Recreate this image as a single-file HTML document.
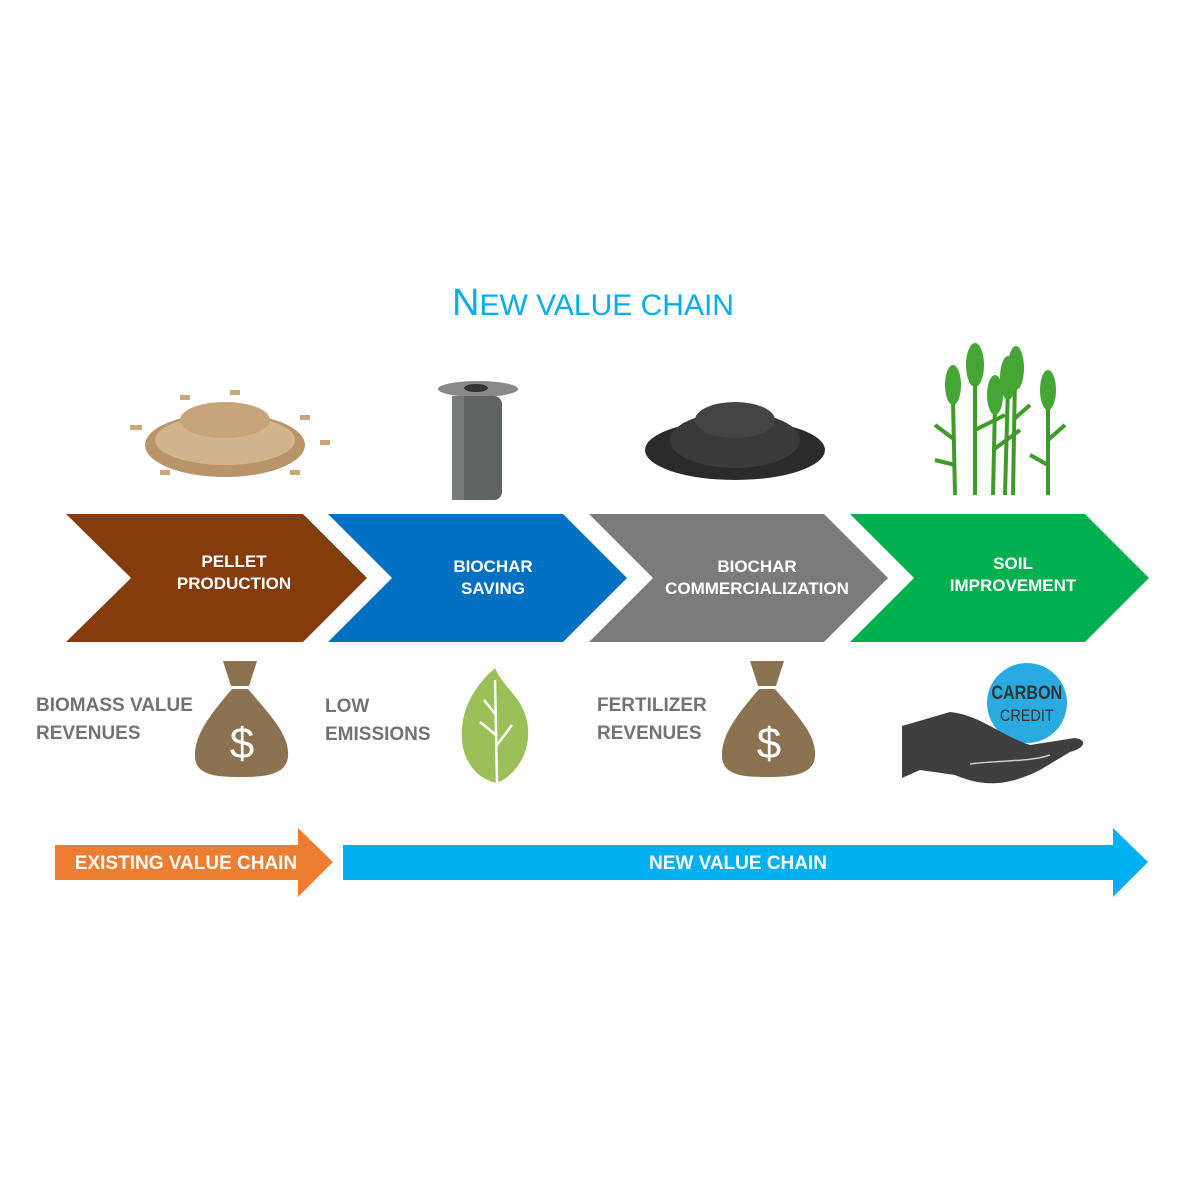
<!DOCTYPE html>
<html><head><meta charset="utf-8"><style>
html,body{margin:0;padding:0;background:#fff;}
svg{display:block;}
</style></head><body>
<svg width="1200" height="1200" viewBox="0 0 1200 1200" xmlns="http://www.w3.org/2000/svg" font-family="Liberation Sans, sans-serif">
<rect width="1200" height="1200" fill="#fff"/>
<text x="593" y="315" text-anchor="middle" fill="#00aeef" font-size="38">N<tspan font-size="30">EW VALUE CHAIN</tspan></text>

<!-- pellets -->
<g fill="#c9a77c">
<ellipse cx="225" cy="445" rx="80" ry="32" fill="#b89468"/>
<ellipse cx="225" cy="440" rx="70" ry="25" fill="#d2b48c"/>
<ellipse cx="225" cy="420" rx="45" ry="18" fill="#c8a47a"/>
<rect x="130" y="425" width="12" height="5"/><rect x="300" y="415" width="10" height="5"/><rect x="320" y="440" width="10" height="5"/><rect x="180" y="395" width="10" height="5"/><rect x="230" y="390" width="10" height="5"/><rect x="160" y="470" width="10" height="5"/><rect x="290" y="470" width="10" height="5"/>
</g>
<!-- cylinder -->
<ellipse cx="478" cy="389" rx="40" ry="8" fill="#888"/>
<ellipse cx="476" cy="388" rx="12" ry="4" fill="#333"/>
<rect x="452" y="396" width="50" height="104" rx="8" fill="#5f6362"/>
<rect x="452" y="396" width="12" height="104" fill="#777b7a"/>
<!-- biochar -->
<ellipse cx="735" cy="450" rx="90" ry="30" fill="#2b2b2b"/>
<ellipse cx="735" cy="440" rx="65" ry="28" fill="#3a3a3a"/>
<ellipse cx="735" cy="420" rx="40" ry="18" fill="#444"/>
<!-- plants -->
<g stroke="#3f9a2c" stroke-width="4" fill="none">
<path d="M953 400 L955 495"/><path d="M975 370 L975 495"/><path d="M995 405 L993 495"/><path d="M1008 385 L1005 495"/><path d="M1015 375 L1013 495"/><path d="M1048 390 L1048 495"/>
<path d="M955 440 L935 425 M955 465 L935 460 M975 430 L1005 415 M993 450 L1020 430 M1013 420 L1030 405 M1048 440 L1065 425 M1048 465 L1030 455"/>
</g>
<g fill="#45a535">
<ellipse cx="953" cy="385" rx="8" ry="20"/><ellipse cx="975" cy="365" rx="9" ry="22"/><ellipse cx="995" cy="395" rx="8" ry="20"/><ellipse cx="1008" cy="378" rx="8" ry="22"/><ellipse cx="1016" cy="368" rx="8" ry="22"/><ellipse cx="1048" cy="390" rx="8" ry="20"/>
</g>

<!-- chevrons -->
<polygon points="66,514 303,514 367,578 303,642 66,642 131,578" fill="#843c0c"/>
<polygon points="328,514 563,514 627,578 563,642 328,642 392,578" fill="#0070c0"/>
<polygon points="589,514 824,514 888,578 824,642 589,642 653,578" fill="#7b7b7b"/>
<polygon points="850,514 1085,514 1149,578 1085,642 850,642 914,578" fill="#00b050"/>
<g fill="#fff" font-weight="bold" font-size="17" text-anchor="middle">
<text x="234" y="567">PELLET</text><text x="234" y="589">PRODUCTION</text>
<text x="493" y="572">BIOCHAR</text><text x="493" y="594">SAVING</text>
<text x="757" y="572">BIOCHAR</text><text x="757" y="594">COMMERCIALIZATION</text>
<text x="1013" y="569">SOIL</text><text x="1013" y="591">IMPROVEMENT</text>
</g>

<g fill="#767171" font-weight="bold" font-size="19">
<text x="36" y="711">BIOMASS VALUE</text><text x="36" y="739">REVENUES</text>
<text x="325" y="712">LOW</text><text x="325" y="740">EMISSIONS</text>
<text x="597" y="711">FERTILIZER</text><text x="597" y="739">REVENUES</text>
</g>

<!-- money bags -->
<g fill="#8b7250">
<polygon points="223,661 257,661 249,686 231,686"/>
<path d="M232,689 L248,689 C270,715 290,735 288,757 C286,775 265,777 240,777 C215,777 196,775 195,757 C194,735 210,715 232,689Z"/>
<polygon points="750,661 784,661 776,686 758,686"/>
<path d="M759,689 L775,689 C797,715 817,735 815,757 C813,775 792,777 767,777 C742,777 723,775 722,757 C721,735 737,715 759,689Z"/>
</g>
<g fill="#fff" font-size="44" text-anchor="middle"><text x="242" y="758">$</text><text x="769" y="758">$</text></g>

<!-- leaf -->
<path d="M495,668 C470,690 460,715 462,740 C464,765 480,780 497,783 C515,775 530,755 528,728 C526,700 505,690 495,668Z" fill="#9bbf59"/>
<path d="M495,680 L497,783 M496,715 L484,700 M496,735 L480,722 M497,745 L512,725" stroke="#fff" stroke-width="2.5" fill="none"/>

<!-- carbon credit -->
<circle cx="1027" cy="703" r="40" fill="#29abe2"/>
<text x="1027" y="699" text-anchor="middle" fill="#333" font-size="19" font-weight="bold" transform="scale(0.85,1) translate(181,0)">CARBON</text>
<text x="1027" y="721" text-anchor="middle" fill="#333" font-size="17" transform="scale(0.85,1) translate(181,0)">CREDIT</text>
<path d="M902,726 L950,712 C980,715 1000,735 1030,745 L1075,738 C1088,740 1085,748 1070,752 L1040,770 C1010,785 985,788 955,775 L920,770 L902,778Z" fill="#3f3f3f"/>
<path d="M970,764 C1000,760 1030,762 1050,755" stroke="#ccc" stroke-width="1.5" fill="none"/>

<!-- bottom arrows -->
<polygon points="55,845 298,845 298,828 333,862 298,897 298,880 55,880" fill="#ed7d31"/>
<text x="186" y="869" text-anchor="middle" fill="#fff" font-weight="bold" font-size="19">EXISTING VALUE CHAIN</text>
<polygon points="343,845 1113,845 1113,828 1148,862 1113,897 1113,880 343,880" fill="#00b0f0"/>
<text x="738" y="869" text-anchor="middle" fill="#fff" font-weight="bold" font-size="19">NEW VALUE CHAIN</text>
</svg>
</body></html>
